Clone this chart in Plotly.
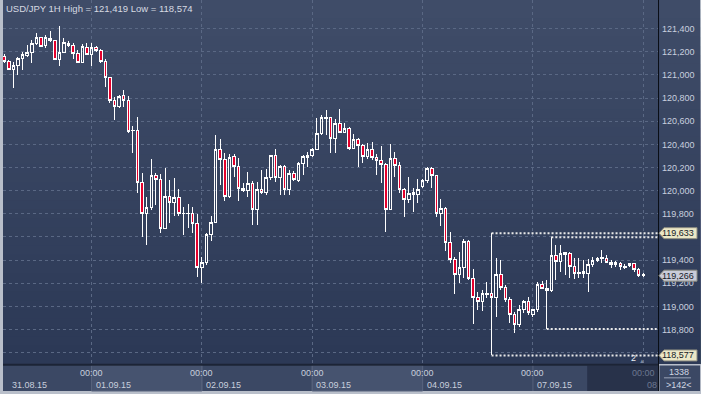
import plotly.graph_objects as go

# ---------------- data (USD/JPY 1H, bar index 0 = 01.09.15 00:00) ----------------
bars = list(range(-19, 121))

opens = [
    121.163, 121.120, 121.049, 121.077, 121.146, 121.166, 121.195, 121.273, 121.325, 121.250,
    121.316, 121.293, 121.135, 121.195, 121.273, 121.258, 121.187, 121.106, 121.239, 121.178,
    121.235, 121.209, 121.114, 120.979, 120.783, 120.726, 120.818, 120.783, 120.516, 120.524,
    120.069, 119.799, 119.857, 120.133, 120.093, 119.675, 119.948, 119.900, 119.943, 119.799,
    119.805, 119.799, 119.719, 119.339, 119.382, 119.618, 119.724, 120.352, 120.271, 119.948,
    120.294, 120.213, 120.021, 120.000, 120.064, 119.840, 120.012, 119.983, 120.116, 120.300,
    120.116, 120.207, 120.012, 120.150, 120.084, 120.237, 120.289, 120.300, 120.360, 120.496,
    120.634, 120.631, 120.453, 120.582, 120.505, 120.539, 120.366, 120.438, 120.386, 120.294,
    120.358, 120.289, 120.257, 120.222, 119.840, 120.280, 120.216, 120.012, 119.920, 119.986,
    119.969, 120.035, 120.084, 120.194, 120.127, 119.805, 119.848, 119.551, 119.408, 119.278,
    119.339, 119.560, 119.244, 119.080, 119.045, 119.105, 119.114, 119.080, 119.272, 119.162,
    119.056, 118.927, 118.846, 118.970, 119.042, 118.933, 118.970, 119.186, 119.157, 119.134,
    119.436, 119.387, 119.465, 119.460, 119.344, 119.295, 119.301, 119.281, 119.359, 119.396,
    119.410, 119.416, 119.378, 119.359, 119.373, 119.344, 119.350, 119.367, 119.321, 119.272,
]
highs = [
    121.181, 121.129, 121.114, 121.155, 121.198, 121.258, 121.302, 121.365, 121.330, 121.345,
    121.379, 121.302, 121.419, 121.316, 121.296, 121.273, 121.215, 121.267, 121.273, 121.273,
    121.250, 121.221, 121.135, 120.982, 120.812, 120.827, 120.870, 120.818, 120.559, 120.639,
    120.153, 119.948, 120.271, 120.150, 120.144, 120.194, 120.093, 120.110, 120.012, 119.862,
    119.885, 119.862, 119.799, 119.430, 119.632, 119.782, 120.481, 120.444, 120.323, 120.317,
    120.317, 120.280, 120.064, 120.159, 120.084, 120.073, 120.179, 120.188, 120.308, 120.360,
    120.222, 120.222, 120.179, 120.170, 120.251, 120.308, 120.337, 120.371, 120.631, 120.654,
    120.697, 120.639, 120.617, 120.706, 120.587, 120.553, 120.490, 120.458, 120.403, 120.410,
    120.418, 120.314, 120.386, 120.237, 120.403, 120.337, 120.251, 120.021, 120.116, 120.021,
    120.099, 120.099, 120.207, 120.207, 120.136, 119.926, 119.862, 119.646, 119.430, 119.468,
    119.580, 119.574, 119.321, 119.128, 119.143, 119.214, 119.633, 119.416, 119.402, 119.186,
    119.085, 118.955, 119.013, 119.056, 119.085, 118.976, 119.214, 119.223, 119.229, 119.598,
    119.531, 119.531, 119.473, 119.473, 119.416, 119.416, 119.402, 119.408, 119.430, 119.430,
    119.488, 119.445, 119.402, 119.396, 119.387, 119.367, 119.378, 119.378, 119.335, 119.287,
]
lows = [
    121.103, 121.043, 120.887, 120.999, 121.043, 121.155, 121.103, 121.258, 121.239, 121.230,
    121.282, 121.129, 121.077, 121.187, 121.244, 121.135, 121.100, 121.100, 121.172, 121.077,
    121.200, 121.106, 120.898, 120.757, 120.611, 120.714, 120.726, 120.501, 120.328, 119.980,
    119.603, 119.531, 119.833, 119.877, 119.637, 119.667, 119.719, 119.782, 119.782, 119.618,
    119.675, 119.637, 119.252, 119.206, 119.359, 119.568, 119.719, 120.049, 119.914, 119.935,
    120.121, 119.911, 119.992, 119.948, 119.704, 119.704, 119.969, 119.963, 120.093, 120.078,
    119.963, 119.963, 119.963, 120.084, 120.078, 120.136, 120.207, 120.294, 120.352, 120.481,
    120.481, 120.323, 120.323, 120.496, 120.496, 120.352, 120.358, 120.207, 120.237, 120.271,
    120.265, 120.136, 120.064, 119.646, 119.833, 120.121, 119.978, 119.770, 119.897, 119.819,
    119.891, 120.021, 120.064, 120.021, 119.770, 119.695, 119.482, 119.378, 119.108, 119.200,
    119.244, 119.229, 118.849, 118.970, 118.964, 119.071, 118.577, 118.912, 119.143, 119.039,
    118.855, 118.774, 118.826, 118.941, 118.927, 118.912, 118.955, 119.149, 118.806, 119.128,
    119.229, 119.301, 119.272, 119.244, 119.235, 119.244, 119.244, 119.128, 119.344, 119.387,
    119.378, 119.373, 119.330, 119.344, 119.315, 119.327, 119.339, 119.301, 119.257, 119.257,
]
closes = [
    121.114, 121.049, 121.077, 121.146, 121.172, 121.195, 121.273, 121.325, 121.244, 121.325,
    121.293, 121.135, 121.195, 121.278, 121.252, 121.187, 121.106, 121.244, 121.178, 121.239,
    121.209, 121.114, 120.979, 120.783, 120.726, 120.812, 120.783, 120.510, 120.524, 120.069,
    119.799, 119.857, 120.133, 120.093, 119.675, 119.948, 119.900, 119.943, 119.799, 119.805,
    119.799, 119.719, 119.339, 119.382, 119.618, 119.727, 120.352, 120.271, 119.948, 120.289,
    120.213, 120.021, 120.000, 120.064, 119.840, 120.012, 119.983, 120.116, 120.300, 120.116,
    120.207, 120.012, 120.150, 120.093, 120.237, 120.294, 120.300, 120.360, 120.496, 120.631,
    120.625, 120.453, 120.582, 120.505, 120.539, 120.366, 120.438, 120.386, 120.294, 120.358,
    120.289, 120.257, 120.222, 119.840, 120.280, 120.216, 120.012, 119.920, 119.978, 119.969,
    120.012, 120.084, 120.194, 120.127, 119.805, 119.848, 119.551, 119.408, 119.278, 119.339,
    119.560, 119.244, 119.080, 119.045, 119.114, 119.114, 119.080, 119.272, 119.162, 119.056,
    118.927, 118.846, 118.970, 119.042, 118.947, 118.970, 119.186, 119.157, 119.134, 119.436,
    119.387, 119.460, 119.451, 119.344, 119.287, 119.287, 119.281, 119.359, 119.396, 119.416,
    119.419, 119.378, 119.359, 119.378, 119.344, 119.335, 119.367, 119.321, 119.264, 119.266,
]

day_ticks = [0, 24, 48, 72, 96, 120]
time_labels = ["00:00", "00:00", "00:00", "00:00", "00:00", "00:00"]
date_starts = [-19.25, 0, 24, 48, 72, 96, 120]
date_labels = ["31.08.15", "01.09.15", "02.09.15", "03.09.15", "04.09.15", "07.09.15", "08"]

price_ticks = [118.6, 118.8, 119.0, 119.2, 119.4, 119.6, 119.8, 120.0,
               120.2, 120.4, 120.6, 120.8, 121.0, 121.2, 121.4]
# 118,600 and 119,600 are hidden behind the price tags in the reference
price_labels = ["", "118,800", "119,000", "119,200", "119,400", "", "119,800", "120,000",
                "120,200", "120,400", "120,600", "120,800", "121,000", "121,200", "121,400"]

# horizontal level lines: (start bar, price)
level_start = [87, 87, 100, 99]
level_price = [119.633, 118.577, 119.598, 118.806]

# right-hand price tags
tag_price = [119.633, 119.266, 118.577]
tag_text = ["119,633", "119,266", "118,577"]
tag_fill = ["#ebe7c6", "#c9cbd8", "#ebe7c6"]

title_text = "USD/JPY 1H High = 121,419 Low = 118,574"
corner_top, corner_bottom = "1338", ">142<"

X_RANGE = [-19.25, 123.2]
Y_RANGE = [118.503, 121.647]
FONT = "Liberation Sans, Arial, sans-serif"

fig = go.Figure(go.Candlestick(
    x=bars, open=opens, high=highs, low=lows, close=closes,
    increasing=dict(line=dict(color="#ffffff", width=1), fillcolor="rgba(0,0,0,0)"),
    decreasing=dict(line=dict(color="#ffffff", width=1), fillcolor="#e4002c"),
    whiskerwidth=0, showlegend=False, hoverinfo="skip",
))

shapes = []
# background gradient (plot + right price scale); stacked so there are no seams
N = 40
top = (0x3f, 0x4c, 0x68)
bot = (0x2c, 0x39, 0x56)
for i in range(N):
    t = i / (N - 1)
    c = tuple(round(top[k] + (bot[k] - top[k]) * t) for k in range(3))
    shapes.append(dict(type="rect", xref="paper", yref="paper",
                       x0=0, x1=1.0642, y0=0, y1=1 - i / N,
                       fillcolor="rgb(%d,%d,%d)" % c, line=dict(width=0), layer="below"))

AX_B = -27 / 364  # bottom of time-axis band in paper units
# time axis band
shapes.append(dict(type="rect", xref="paper", yref="paper", x0=0, x1=1, y0=AX_B, y1=0,
                   fillcolor="#3b4864", line=dict(width=0), layer="below"))
# lighter day boxes
for d0, d1 in [(0, 24), (48, 72)]:
    shapes.append(dict(type="rect", xref="x", yref="paper", x0=d0, x1=d1, y0=AX_B, y1=-0.004,
                       fillcolor="#46536f", line=dict(color="#56627c", width=1), layer="below"))
# darker shift zone at right
shapes.append(dict(type="rect", xref="x", yref="paper", x0=107.8, x1=X_RANGE[1], y0=AX_B, y1=-0.004,
                   fillcolor="#28324a", line=dict(width=0), layer="below"))
# separators in time band
for d in day_ticks[:-1]:
    shapes.append(dict(type="line", xref="x", yref="paper", x0=d, x1=d, y0=AX_B, y1=0,
                       line=dict(color="#56627c", width=1), layer="below"))
# dark line at top of time band
shapes.append(dict(type="line", xref="paper", yref="paper", x0=0, x1=1, y0=-0.002, y1=-0.002,
                   line=dict(color="#1c2436", width=2), layer="above"))
# right price scale black border
shapes.append(dict(type="line", xref="paper", yref="paper", x0=1.0008, x1=1.0008, y0=AX_B, y1=1,
                   line=dict(color="#0a0e16", width=1), layer="above"))
# corner box
shapes.append(dict(type="rect", xref="paper", yref="paper", x0=1.0023, x1=1.0642, y0=AX_B, y1=-0.004,
                   fillcolor="#3b4864", line=dict(width=0), layer="below"))
shapes.append(dict(type="line", xref="paper", yref="paper", x0=1.0091, x1=1.0504, y0=-0.038, y1=-0.038,
                   line=dict(color="#9aa4b8", width=1), layer="above"))

# level lines
for xs, p in zip(level_start, level_price):
    shapes.append(dict(type="line", xref="x", yref="y", x0=xs, x1=X_RANGE[1], y0=p, y1=p,
                       line=dict(color="#e8e8e8", width=2, dash="2px,2px"), layer="above"))

# price tags
for p, f in zip(tag_price, tag_fill):
    shapes.append(dict(type="path", xref="paper", yref="y", xsizemode="pixel", ysizemode="pixel",
                       xanchor=1.0, yanchor=p, path="M1,0 L6,5.5 L39,5.5 L39,-5.5 L6,-5.5 Z",
                       fillcolor=f, line=dict(color="#8c8c80", width=1), layer="above"))

annotations = []
annotations.append(dict(text=title_text, xref="paper", yref="paper", x=0, y=1, xanchor="left",
                        yanchor="top", xshift=1, yshift=-1, showarrow=False,
                        font=dict(family=FONT, size=9.5, color="#d6dae2")))
for d, t in zip(day_ticks, time_labels):
    col = "#6c7790" if d == day_ticks[-1] else "#c8cfdc"
    annotations.append(dict(text=t, xref="x", yref="paper", x=d, y=0, xanchor="center",
                            yanchor="top", yshift=-2, showarrow=False,
                            font=dict(family=FONT, size=9, color=col)))
for d, t in zip(date_starts, date_labels):
    col = "#6c7790" if t == date_labels[-1] else "#c8cfdc"
    annotations.append(dict(text=t, xref="x", yref="paper", x=d, y=0, xanchor="left",
                            yanchor="top", xshift=7 if d == date_starts[0] else 2, yshift=-14,
                            showarrow=False, font=dict(family=FONT, size=9, color=col)))
for p, t in zip(tag_price, tag_text):
    annotations.append(dict(text=t, xref="paper", yref="y", x=1.0, y=p, xanchor="left",
                            xshift=2, showarrow=False,
                            font=dict(family=FONT, size=9, color="#141a26")))
annotations.append(dict(text=corner_top, xref="paper", yref="paper", x=1.0322, y=0, xanchor="center",
                        yanchor="top", yshift=-1, showarrow=False,
                        font=dict(family=FONT, size=9, color="#d0d6e2")))
annotations.append(dict(text=corner_bottom, xref="paper", yref="paper", x=1.0322, y=0, xanchor="center",
                        yanchor="top", yshift=-14, showarrow=False,
                        font=dict(family=FONT, size=9, color="#d0d6e2")))
annotations.append(dict(text="2", xref="paper", yref="paper", x=(633 - 3) / 655, y=0, xanchor="center",
                        yanchor="bottom", yshift=-1, showarrow=False,
                        font=dict(family=FONT, size=9, color="#e8ecf2")))
annotations.append(dict(text="▲", xref="paper", yref="paper", x=(642 - 3) / 655, y=0, xanchor="center",
                        yanchor="bottom", yshift=-2, showarrow=False,
                        font=dict(family=FONT, size=6, color="#7c889e")))

fig.update_layout(
    width=701, height=394,
    margin=dict(l=3, r=43, t=0, b=30, pad=0),
    paper_bgcolor="#b9bfca", plot_bgcolor="rgba(0,0,0,0)",
    shapes=shapes, annotations=annotations,
    showlegend=False, hovermode=False, boxgap=0.2,
    xaxis=dict(range=X_RANGE, rangeslider=dict(visible=False), tickvals=day_ticks,
               showticklabels=False, ticks="", showgrid=True, gridcolor="#5a6884",
               griddash="3px,3px", gridwidth=1, zeroline=False, showline=False, fixedrange=True),
    yaxis=dict(range=Y_RANGE, side="right", tickvals=price_ticks, ticktext=price_labels,
               tickfont=dict(family=FONT, size=9, color="#c8d0df"), ticks="", ticklabelstandoff=3,
               showgrid=True, gridcolor="#5a6884", griddash="3px,3px", gridwidth=1,
               zeroline=False, showline=False, fixedrange=True),
)

post = (
    "document.body.style.margin='0px';document.body.style.overflow='hidden';"
    "document.querySelectorAll('.boxlayer path').forEach(function(p){p.style.shapeRendering='crispEdges';});"
)
fig.write_html("out.html", config={"displayModeBar": False}, post_script=post)
